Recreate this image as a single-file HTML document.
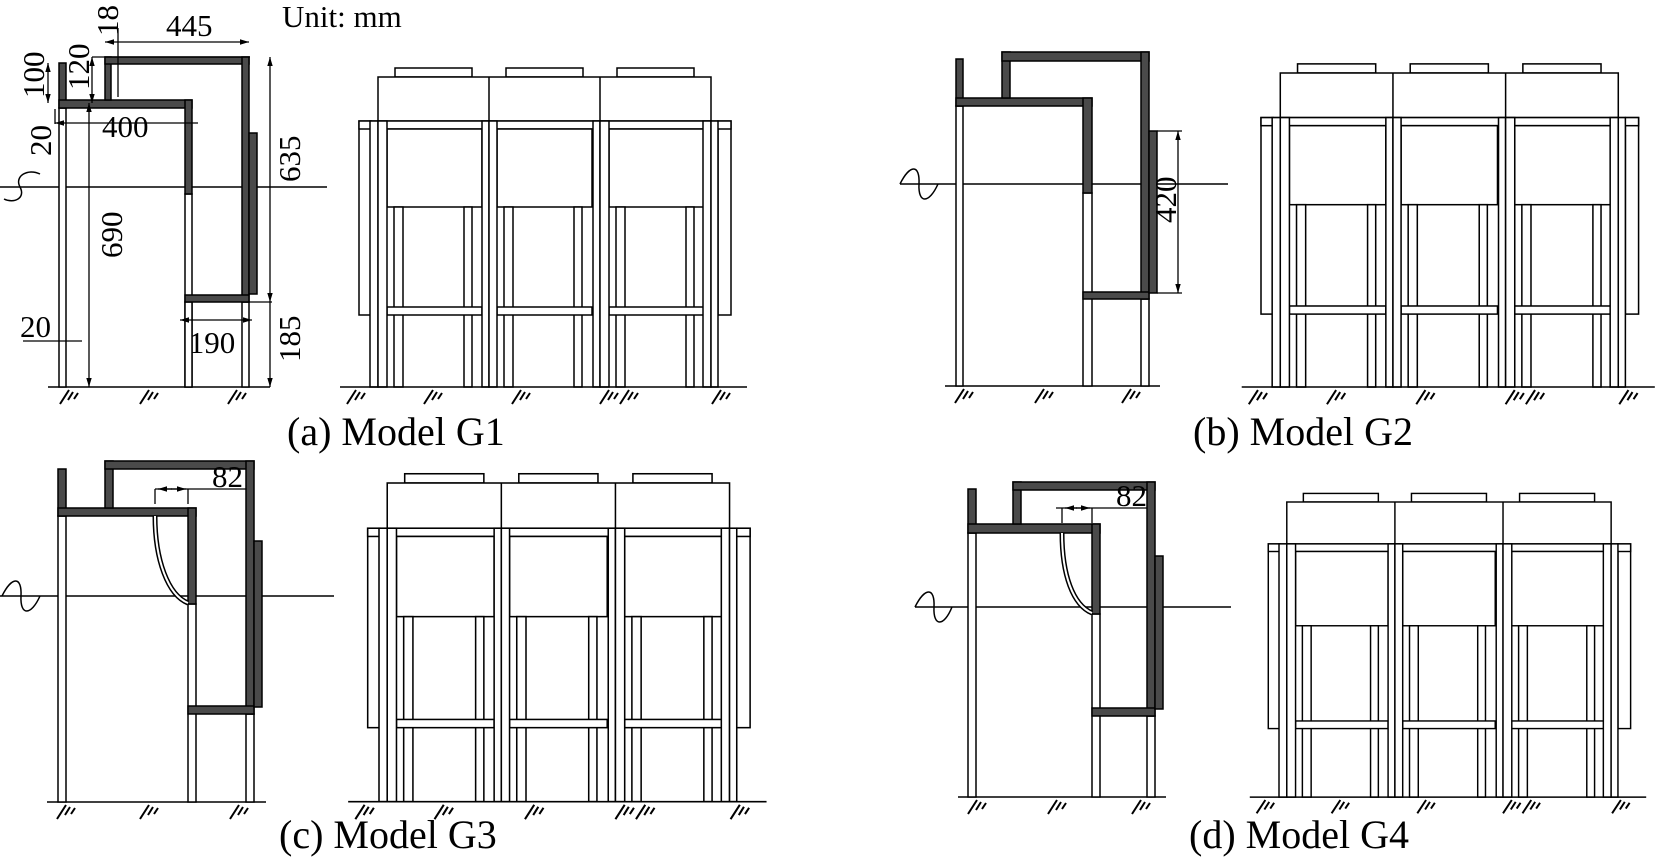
<!DOCTYPE html>
<html><head><meta charset="utf-8"><style>
html,body{margin:0;padding:0;background:#fff;}
svg{display:block;}
text{font-family:"Liberation Serif",serif;fill:#000;}
</style></head><body>
<svg width="1657" height="859" viewBox="0 0 1657 859" xmlns="http://www.w3.org/2000/svg">
<defs>
<marker id="ar" viewBox="0 0 10 10" refX="10" refY="5" markerWidth="7" markerHeight="7" orient="auto-start-reverse"><path d="M0,2 L10,5 L0,8 z" fill="#000"/></marker>
<g id="hat" stroke="#000" stroke-width="2" fill="none"><path d="M0,16 L9,2 M8,12 L13,4 M14,11 L18,5"/></g>
<g id="bay" stroke="#000" stroke-width="1.5" fill="#fff">
 <rect x="0" y="129" width="95" height="78"/>
 <rect x="7" y="207" width="9" height="180"/>
 <rect x="77" y="207" width="8" height="180"/>
 <rect x="0" y="307" width="95" height="8"/>
</g>
<g id="front" stroke="#000" stroke-width="1.5" fill="#fff">
 <rect x="395" y="68" width="77" height="9"/><rect x="506" y="68" width="77" height="9"/><rect x="617" y="68" width="77" height="9"/>
 <rect x="378" y="77" width="333" height="44"/>
 <line x1="489" y1="77" x2="489" y2="121"/><line x1="600" y1="77" x2="600" y2="121"/>
 <rect x="359" y="121" width="12" height="194"/><rect x="718" y="121" width="13" height="194"/>
 <rect x="359" y="121" width="372" height="8"/>
 <use href="#bay" x="387"/><use href="#bay" x="497"/><use href="#bay" x="609"/>
 <rect x="370" y="121" width="8" height="266"/><rect x="378" y="121" width="9" height="266"/>
 <rect x="482" y="121" width="7" height="266"/><rect x="489" y="121" width="8" height="266"/>
 <rect x="593" y="121" width="7" height="266"/><rect x="600" y="121" width="9" height="266"/>
 <rect x="703" y="121" width="8" height="266"/><rect x="711" y="121" width="7" height="266"/>
 <line x1="340" y1="387" x2="747" y2="387"/>
 <use href="#hat" x="347" y="388"/><use href="#hat" x="424" y="388"/><use href="#hat" x="512" y="388"/>
 <use href="#hat" x="600" y="388"/><use href="#hat" x="620" y="388"/><use href="#hat" x="712" y="388"/>
</g>
</defs>

<use href="#front"/>
<use href="#front" transform="translate(1261,73) scale(1.015,1.013) translate(-359,-77)"/>
<use href="#front" transform="translate(379,483) scale(1.028) translate(-370,-77)"/>
<use href="#front" transform="translate(1279,502) scale(0.974,0.952) translate(-370,-77)"/>

<g stroke="#000" stroke-width="1.5" fill="#fff">
<line x1="0" y1="187" x2="327" y2="187"/>
<path d="M40,174 C28,168 14,176 20,187 S14,204 4,199" fill="none"/>
<line x1="48" y1="387" x2="270" y2="387"/>
<use href="#hat" x="60" y="388"/><use href="#hat" x="140" y="388"/><use href="#hat" x="228" y="388"/>
<rect x="59" y="108" width="7" height="279"/>
<rect x="185" y="194" width="7" height="193"/>
<rect x="185" y="302" width="7" height="85"/>
<rect x="242" y="302" width="7" height="85"/>
<g fill="#4a4a4a">
<rect x="59" y="63" width="7" height="45"/>
<rect x="59" y="100" width="133" height="8"/>
<rect x="185" y="100" width="7" height="94"/>
<rect x="105" y="57" width="6" height="43"/>
<rect x="105" y="57" width="144" height="7"/>
<rect x="242" y="57" width="7" height="245"/>
<rect x="185" y="295" width="64" height="7"/>
<rect x="249" y="133" width="8" height="161"/>
</g>
<g fill="none" stroke-width="1.3">
<line x1="105" y1="42" x2="249" y2="42" marker-start="url(#ar)" marker-end="url(#ar)"/>
<line x1="118" y1="28" x2="118" y2="97"/>
<line x1="92" y1="57" x2="92" y2="103" marker-start="url(#ar)" marker-end="url(#ar)"/>
<line x1="92" y1="57" x2="250" y2="57"/>
<line x1="48" y1="63" x2="48" y2="103" marker-start="url(#ar)" marker-end="url(#ar)"/>
<line x1="55" y1="109" x2="55" y2="124"/>
<line x1="55" y1="123" x2="198" y2="123" marker-start="url(#ar)"/>
<line x1="270" y1="57" x2="270" y2="302" marker-start="url(#ar)" marker-end="url(#ar)"/>
<line x1="249" y1="302" x2="272" y2="302"/>
<line x1="270" y1="302" x2="270" y2="387" marker-end="url(#ar)"/>
<line x1="89" y1="103" x2="89" y2="387" marker-start="url(#ar)" marker-end="url(#ar)"/>
<line x1="180" y1="320" x2="252" y2="320" marker-start="url(#ar)" marker-end="url(#ar)"/>
<line x1="23" y1="341" x2="82" y2="341"/>
</g>
</g>
<g font-size="31">
<text x="282" y="27">Unit: mm</text>
<text x="166" y="36">445</text>
<text x="102" y="137">400</text>
<text x="212" y="353" text-anchor="middle">190</text>
<text x="20" y="337">20</text>
<text transform="translate(118,36) rotate(-90)">18</text>
<text transform="translate(89,90) rotate(-90)">120</text>
<text transform="translate(44,98) rotate(-90)">100</text>
<text transform="translate(51,156) rotate(-90)">20</text>
<text transform="translate(300,182) rotate(-90)">635</text>
<text transform="translate(122,258) rotate(-90)">690</text>
<text transform="translate(300,362) rotate(-90)">185</text>
</g>

<g stroke="#000" stroke-width="1.5" fill="#fff">
<line x1="900" y1="184" x2="1228" y2="184"/>
<path d="M900,184 C910,164 920,164 919,184 S929,204 938,184" fill="none"/>
<line x1="945" y1="386" x2="1160" y2="386"/>
<use href="#hat" x="955" y="387"/><use href="#hat" x="1035" y="387"/><use href="#hat" x="1122" y="387"/>
<rect x="956" y="106" width="7" height="280"/>
<rect x="1083" y="193" width="9" height="193"/>
<rect x="1141" y="299" width="8" height="87"/>
<g fill="#4a4a4a">
<rect x="956" y="59" width="7" height="47"/>
<rect x="956" y="98" width="136" height="8"/>
<rect x="1083" y="98" width="9" height="95"/>
<rect x="1002" y="52" width="8" height="46"/>
<rect x="1002" y="52" width="147" height="9"/>
<rect x="1141" y="52" width="8" height="247"/>
<rect x="1083" y="292" width="66" height="7"/>
<rect x="1149" y="131" width="8" height="162"/>
</g>
<g fill="none" stroke-width="1.3">
<line x1="1178" y1="131" x2="1178" y2="293" marker-start="url(#ar)" marker-end="url(#ar)"/>
<line x1="1157" y1="131" x2="1182" y2="131"/><line x1="1157" y1="293" x2="1182" y2="293"/>
</g>
</g>
<text font-size="31" transform="translate(1176,223) rotate(-90)">420</text>

<g stroke="#000" stroke-width="1.5" fill="#fff">
<line x1="0" y1="596" x2="334" y2="596"/>
<path d="M2,596 C12,576 22,576 21,596 S31,616 40,596" fill="none"/>
<line x1="47" y1="802" x2="266" y2="802"/>
<use href="#hat" x="57" y="803"/><use href="#hat" x="140" y="803"/><use href="#hat" x="230" y="803"/>
<rect x="58" y="516" width="8" height="286"/>
<rect x="188" y="604" width="8" height="198"/>
<rect x="246" y="714" width="8" height="88"/>
<g fill="#4a4a4a">
<rect x="58" y="469" width="8" height="47"/>
<rect x="58" y="508" width="138" height="8"/>
<rect x="188" y="508" width="8" height="96"/>
<rect x="105" y="461" width="8" height="47"/>
<rect x="105" y="461" width="149" height="8"/>
<rect x="246" y="461" width="8" height="253"/>
<rect x="188" y="706" width="66" height="8"/>
<rect x="254" y="541" width="8" height="166"/>
</g>
<path d="M155,516 C155,560 168,595 188,603" fill="none" stroke="#000" stroke-width="5"/>
<path d="M155,516 C155,560 168,595 188,603" fill="none" stroke="#fff" stroke-width="2"/>
<g fill="none" stroke-width="1.3">
<line x1="155" y1="489" x2="155" y2="504"/><line x1="188" y1="489" x2="188" y2="504"/>
<line x1="155" y1="489" x2="246" y2="489"/>
<line x1="158" y1="489" x2="172" y2="489" marker-start="url(#ar)"/>
<line x1="171" y1="489" x2="186" y2="489" marker-end="url(#ar)"/>
</g>
</g>
<text font-size="31" x="212" y="487">82</text>

<g stroke="#000" stroke-width="1.5" fill="#fff">
<line x1="915" y1="607" x2="1231" y2="607"/>
<path d="M915,607 C925,587 935,587 934,607 S944,627 952,607" fill="none"/>
<line x1="958" y1="797" x2="1166" y2="797"/>
<use href="#hat" x="968" y="798"/><use href="#hat" x="1048" y="798"/><use href="#hat" x="1132" y="798"/>
<rect x="968" y="533" width="8" height="264"/>
<rect x="1092" y="614" width="8" height="183"/>
<rect x="1147" y="716" width="8" height="81"/>
<g fill="#4a4a4a">
<rect x="968" y="489" width="8" height="44"/>
<rect x="968" y="524" width="132" height="9"/>
<rect x="1092" y="524" width="8" height="90"/>
<rect x="1013" y="482" width="8" height="42"/>
<rect x="1013" y="482" width="142" height="8"/>
<rect x="1147" y="482" width="8" height="234"/>
<rect x="1092" y="708" width="63" height="8"/>
<rect x="1155" y="556" width="8" height="153"/>
</g>
<path d="M1062,533 C1062,575 1073,605 1092,613" fill="none" stroke="#000" stroke-width="5"/>
<path d="M1062,533 C1062,575 1073,605 1092,613" fill="none" stroke="#fff" stroke-width="2"/>
<g fill="none" stroke-width="1.3">
<line x1="1062" y1="508" x2="1062" y2="523"/><line x1="1092" y1="508" x2="1092" y2="523"/>
<line x1="1056" y1="508" x2="1147" y2="508"/>
<line x1="1065" y1="508" x2="1077" y2="508" marker-start="url(#ar)"/>
<line x1="1076" y1="508" x2="1090" y2="508" marker-end="url(#ar)"/>
</g>
</g>
<text font-size="31" x="1116" y="506">82</text>

<g font-size="40">
<text x="287" y="445">(a) Model G1</text>
<text x="1193" y="445">(b) Model G2</text>
<text x="279" y="848">(c) Model G3</text>
<text x="1189" y="848">(d) Model G4</text>
</g>
</svg>
</body></html>
